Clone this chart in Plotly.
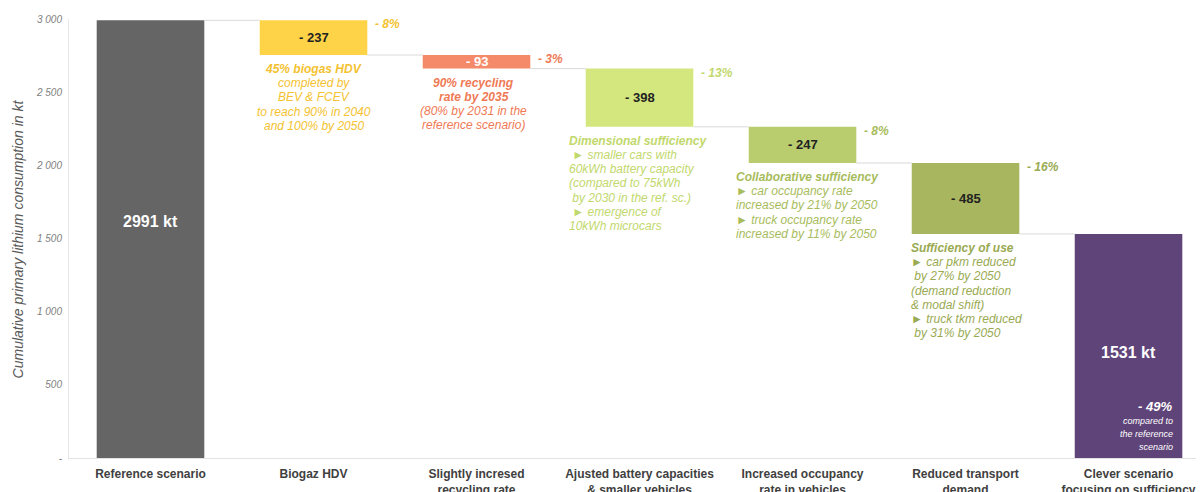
import plotly.graph_objects as go

# ---------------- data ----------------
categories = [
    "Reference scenario",
    "Biogaz HDV",
    "Slightly incresed<br>recycling rate",
    "Ajusted battery capacities<br>& smaller vehicles",
    "Increased occupancy<br>rate in vehicles",
    "Reduced transport<br>demand",
    "Clever scenario<br>focusing on sufficiency",
]
reference_total = 2991
reductions = [-237, -93, -398, -247, -485]
final_total = 1531
y_tick_vals = [0, 500, 1000, 1500, 2000, 2500, 3000]
y_tick_text = ["-", "500", "1 000", "1 500", "2 000", "2 500", "3 000"]

bar_colors = ["#656565", "#FFD347", "#F58A6B", "#D4E67E", "#B9CC6E", "#A7B65F", "#5F4479"]
text_colors = [None, "#F4C230", "#F07A55", "#C2D86C", "#A8BC5C", "#9AAA52", None]
value_text_colors = ["white", "#222222", "white", "#222222", "#222222", "#222222", "white"]

descriptions = [
    None,
    ("center", 0, [("45% biogas HDV", True), ("completed by", False), ("BEV & FCEV", False),
                   ("to reach 90% in 2040", False), ("and 100% by 2050", False)]),
    ("center", -3, [("90% recycling", True), ("rate by 2035", True), ("(80% by 2031 in the", False),
                    ("reference scenario)", False)]),
    ("left", -19, [("Dimensional sufficiency", True), (" \u25ba smaller cars with", False),
                   ("60kWh battery capacity", False), ("(compared to 75kWh", False),
                   (" by 2030 in the ref. sc.)", False), (" \u25ba emergence of", False),
                   ("10kWh microcars", False)]),
    ("left", -15, [("Collaborative sufficiency", True), ("\u25ba car occupancy rate", False),
                   ("increased by 21% by 2050", False), ("\u25ba truck occupancy rate", False),
                   ("increased by 11% by 2050", False)]),
    ("left", -3, [("Sufficiency of use", True), ("\u25ba car pkm reduced", False),
                  (" by 27% by 2050", False), ("(demand reduction", False),
                  ("& modal shift)", False), ("\u25ba truck tkm reduced", False),
                  (" by 31% by 2050", False)]),
    None,
]

# ---------------- geometry from data ----------------
n = len(categories)
xs = list(range(n))
bar_w = 0.66
bases, heights = [0], [reference_total]
running = reference_total
levels = [reference_total]
for r in reductions:
    new = running + r
    bases.append(new)
    heights.append(-r)
    running = new
    levels.append(running)
bases.append(0)
heights.append(final_total)
levels.append(final_total)

fig = go.Figure()
fig.add_trace(go.Bar(
    x=xs, y=heights, base=bases, width=bar_w,
    marker=dict(color=bar_colors, line=dict(width=0)),
    hoverinfo="skip", showlegend=False,
))

# connectors
cx, cy = [], []
for i in range(n - 1):
    lvl = levels[i] if i == 0 else bases[i]
    cx += [i + bar_w / 2, i + 1 - bar_w / 2, None]
    cy += [lvl, lvl, None]
fig.add_trace(go.Scatter(x=cx, y=cy, mode="lines", line=dict(color="#D9D9D9", width=1),
                         hoverinfo="skip", showlegend=False))

ann = []
FONT = "Liberation Sans, Arial, sans-serif"

# value labels
for i in range(1, n - 1):
    ann.append(dict(x=i, y=bases[i] + heights[i] / 2, xref="x", yref="y",
                    text=f"<b>- {heights[i]}</b>", showarrow=False,
                    font=dict(family=FONT, size=13, color=value_text_colors[i])))
    pct = round(100 * heights[i] / reference_total)
    ann.append(dict(x=i + bar_w / 2, y=bases[i] + heights[i], xref="x", yref="y",
                    xanchor="left", yanchor="middle", xshift=6, yshift=-4,
                    text=f"<b><i>- {pct}%</i></b>", showarrow=False,
                    font=dict(family=FONT, size=12, color=text_colors[i])))
ann.append(dict(x=0, y=1616, xref="x", yref="y", text=f"<b>{reference_total} kt</b>",
                showarrow=False, font=dict(family=FONT, size=16, color="white")))
ann.append(dict(x=n - 1, y=719, xref="x", yref="y", text=f"<b>{final_total} kt</b>",
                showarrow=False, font=dict(family=FONT, size=16, color="white")))
total_pct = round(100 * (reference_total - final_total) / reference_total)
ann.append(dict(x=n - 1 + bar_w / 2, y=350, xref="x", yref="y", xanchor="right", xshift=-8,
                text=f"<b><i>- {total_pct}%</i></b>", showarrow=False,
                font=dict(family=FONT, size=13, color="white")))
for k, line in enumerate(["compared to", "the reference", "scenario"]):
    ann.append(dict(x=n - 1 + bar_w / 2, y=250, xref="x", yref="y", xanchor="right", xshift=-7,
                    yshift=-k * 13, text=f"<i>{line}</i>", showarrow=False,
                    font=dict(family=FONT, size=9, color="white")))

# descriptions
for i, d in enumerate(descriptions):
    if d is None:
        continue
    align, dx, lines = d
    bottom = bases[i]
    if align == "center":
        xpos, xanchor = i, "center"
    else:
        xpos, xanchor = i - bar_w / 2, "left"
    for k, (txt, bold) in enumerate(lines):
        t = f"<i>{txt}</i>"
        if bold:
            t = f"<b>{t}</b>"
        ann.append(dict(x=xpos, y=bottom, xref="x", yref="y", xanchor=xanchor, yanchor="middle",
                        xshift=dx, yshift=-(14 + k * 14.2), text=t, showarrow=False,
                        font=dict(family=FONT, size=12, color=text_colors[i])))

# y-axis title
ann.append(dict(x=-0.045, y=0.5, xref="paper", yref="paper", textangle=-90,
                xanchor="center", yanchor="middle",
                text="<i>Cumulative primary lithium consumption in kt</i>", showarrow=False,
                font=dict(family=FONT, size=14, color="#595959")))

# page body has an 8px margin: the figure is sized to fit inside the window
fig.update_layout(
    width=1196, height=484,
    margin=dict(l=61, r=0, t=11, b=34),
    paper_bgcolor="white", plot_bgcolor="white",
    font=dict(family=FONT),
    annotations=ann,
    bargap=0.34,
    xaxis=dict(tickvals=xs, ticktext=[f"<b>{c}</b>" for c in categories],
               range=[-0.5, 6.463], showgrid=False, zeroline=False,
               showline=True, linecolor="#E3E3E3", linewidth=1, ticks="",
               ticklabelstandoff=5,
               tickfont=dict(family=FONT, size=12, color="#404040"), automargin=False),
    yaxis=dict(range=[0, 3000], tickvals=y_tick_vals, ticktext=y_tick_text,
               showgrid=False, zeroline=False, showline=True, linecolor="#E8E8E8", linewidth=1,
               ticks="", ticklabelstandoff=4,
               tickfont=dict(family=FONT, size=10, color="#7F7F7F", style="italic"),
               automargin=False),
)

fig.write_html("out.html")
